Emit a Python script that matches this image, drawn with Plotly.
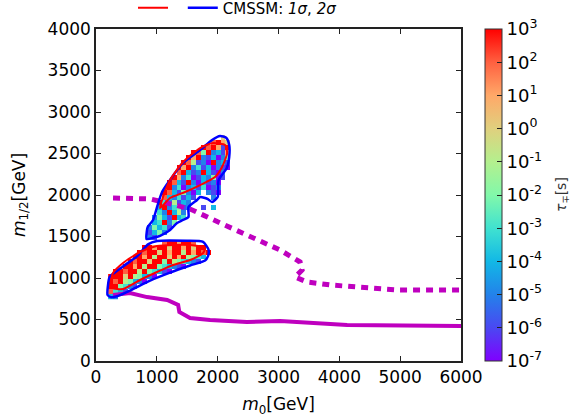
import plotly.graph_objects as go

# ---------------- data ----------------
# heat-map cells: log10(tau/s) codes, '0'..'9' -> -7..2, 'A' -> 3, '.' empty
CELL_X0 = 240          # centre of first column [GeV]
CELL_DX = 80           # column width [GeV]
CELL_DY = 60           # row height [GeV]
N_COLS = 26
ROW_Y = [2690, 2630, 2570, 2510, 2450, 2390, 2330, 2270, 2210, 2150, 2090,
         2030, 1970, 1910, 1850, 1790, 1730, 1670, 1610, 1550, 1490,
         1430, 1370, 1310, 1250, 1190, 1130, 1070, 1010, 950, 890, 830, 770]
ROW_START = [23, 21, 19, 17, 16, 15, 14, 14, 13, 12, 12,
             11, 11, 10, 10, 10, 9, 9, 8, 8, 8,
             11, 7, 6, 5, 4, 3, 1, 0, 0, 0, 0, 0]
ROW_CODES = ["7", "9A87", "A9A81A", "A95A2318", "A8A213025", "A96120A231",
             "A8A24130210", "9A312A3102", "A8240132501", "A931A203120",
             "A2402314012", "A9315203.210", "9324131...2", "A426132",
             "3A24512..1.3", "42A362", "2531A34", "34A25", "25341", "1352", "21",
             "9AA8AA9", "AA8AA7AA8A7AA", "A9AA7A8AA6A8A9A", "AA8A6AA7A8A6543",
             "A9AA7AA5A654321", "AA8A6AA543210", "AA9AA6A54310", "AAA7A65320",
             "A9A65320", "AA5421", "9431", "32"]
CODE_VALUE = {c: i - 7 for i, c in enumerate("0123456789A")}

# likelihood contours [GeV]
BLUE_UP_X = [830, 835, 850, 938, 1003, 1086, 1217, 1431, 1711, 1908, 2039, 2140, 2190,
             2190, 2150, 2016, 2000, 1908, 1840, 1793, 1711, 1661, 1520, 1520, 1431,
             1332, 1217, 1053, 938, 830]
BLUE_UP_Y = [1470, 1560, 1614, 1699, 1855, 2036, 2181, 2386, 2542, 2663, 2710, 2690, 2602,
             2458, 2325, 2181, 1976, 1916, 1950, 1964, 1976, 1940, 1855, 1735, 1699,
             1663, 1578, 1508, 1484, 1470]
BLUE_LO_X = [190, 195, 225, 444, 674, 855, 1003, 1497, 1760, 1850, 1840, 1793, 1546,
             1217, 888, 559, 345, 250, 190]
BLUE_LO_Y = [795, 900, 1012, 1140, 1260, 1405, 1445, 1448, 1435, 1340, 1260, 1210, 1150,
             1065, 968, 848, 780, 768, 795]
RED_UP_X = [1053, 1102, 1217, 1431, 1711, 1924, 2122, 2155, 2072, 1957, 1711, 1464,
            1217, 1053]
RED_UP_Y = [1843, 1976, 2181, 2398, 2566, 2627, 2602, 2506, 2337, 2217, 2120, 2036,
            1964, 1843]
RED_LO_X = [247, 270, 444, 724, 1003, 1266, 1546, 1760, 1793, 1546, 1003, 724, 444,
            280, 247]
RED_LO_Y = [952, 880, 867, 976, 1072, 1157, 1217, 1301, 1361, 1398, 1386, 1313, 1181,
            1060, 952]

# exclusion limits [GeV]
DASH_X = [280, 890, 1300, 1546, 2040, 2650, 3026, 3355, 3388, 3273, 3470, 3849, 4391,
          4950, 6000]
DASH_Y = [1964, 1952, 1880, 1831, 1663, 1458, 1337, 1193, 1096, 1012, 952, 916, 880,
          855, 855]
SOLID_X = [280, 560, 840, 1170, 1350, 1370, 1546, 1875, 2480, 3026, 4128, 6000]
SOLID_Y = [795, 820, 770, 735, 675, 590, 518, 494, 470, 482, 434, 422]

X_TICKS = [0, 1000, 2000, 3000, 4000, 5000, 6000]
Y_TICKS = [0, 500, 1000, 1500, 2000, 2500, 3000, 3500, 4000]
CB_EXPONENTS = [-7, -6, -5, -4, -3, -2, -1, 0, 1, 2, 3]

# ---------------- build grid ----------------
xs = [CELL_X0 + CELL_DX * c for c in range(N_COLS)]
ys = sorted(ROW_Y)
z = [[None] * N_COLS for _ in ys]
for y, start, codes in zip(ROW_Y, ROW_START, ROW_CODES):
    r = ys.index(y)
    for k, ch in enumerate(codes):
        if ch in CODE_VALUE:
            z[r][start + k] = CODE_VALUE[ch]

colorscale = [[0.0, '#8000ff'], [0.1, '#4a48f2'], [0.2, '#2382ea'], [0.3, '#12b8e6'],
              [0.4, '#40e2d0'], [0.5, '#82f8aa'], [0.6, '#b4f08e'], [0.7, '#e0d07e'],
              [0.8, '#ffa868'], [0.9, '#ff6040'], [1.0, '#ff0000']]

FONT = "DejaVu Sans"
PLOT_L, PLOT_R, PLOT_T, PLOT_B = 96, 461, 29, 361
PW, PH = PLOT_R - PLOT_L, PLOT_B - PLOT_T
fig = go.Figure()
fig.add_trace(go.Heatmap(
    x=xs, y=ys, z=z, zmin=-7, zmax=3, colorscale=colorscale, hoverongaps=False,
    showscale=True,
    colorbar=dict(
        x=(485 - PLOT_L) / PW, xanchor='left', xpad=0, y=0.5,
        yanchor='middle', len=1, lenmode='fraction', thickness=17, ypad=0,
        outlinewidth=1, outlinecolor='#333333',
        tickvals=CB_EXPONENTS,
        ticktext=['10<sup>%d</sup>' % e for e in CB_EXPONENTS],
        ticks='inside', ticklen=5, tickcolor='#222222',
        tickfont=dict(family=FONT, size=18, color='black'),
    ),
    showlegend=False,
))

mag = '#bf00bf'
fig.add_trace(go.Scatter(x=DASH_X, y=DASH_Y, mode='lines', showlegend=False,
                         line=dict(color=mag, width=5, dash='7px,6px')))
fig.add_trace(go.Scatter(x=SOLID_X, y=SOLID_Y, mode='lines', showlegend=False,
                         line=dict(color=mag, width=4)))

fig.add_trace(go.Scatter(x=BLUE_UP_X, y=BLUE_UP_Y, mode='lines', showlegend=False,
                         line=dict(color='#0000ff', width=2.5, shape='spline', smoothing=0.6)))
fig.add_trace(go.Scatter(x=BLUE_LO_X, y=BLUE_LO_Y, mode='lines', showlegend=False,
                         line=dict(color='#0000ff', width=2.5, shape='spline', smoothing=0.6)))
fig.add_trace(go.Scatter(x=RED_UP_X, y=RED_UP_Y, mode='lines', name=' ',
                         line=dict(color='#ff0000', width=2, shape='spline', smoothing=0.6)))
fig.add_trace(go.Scatter(x=RED_LO_X, y=RED_LO_Y, mode='lines', showlegend=False,
                         line=dict(color='#ff0000', width=2, shape='spline', smoothing=0.6)))
# legend entry for 2 sigma
fig.add_trace(go.Scatter(x=[None], y=[None], mode='lines',
                         name='CMSSM: <i>1σ</i>, <i>2σ</i>',
                         line=dict(color='#0000ff', width=2.5)))

axis_common = dict(showgrid=False, zeroline=False, showline=True, linecolor='#222222',
                   linewidth=1.5, mirror='ticks', ticks='inside', ticklen=5,
                   tickcolor='#222222', tickfont=dict(family=FONT, size=17, color='black'))
fig.update_layout(
    width=575, height=420,
    margin=dict(l=PLOT_L, r=575 - PLOT_R, t=PLOT_T, b=420 - PLOT_B, autoexpand=False),
    paper_bgcolor='white', plot_bgcolor='white',
    font=dict(family=FONT, color='black'),
    xaxis=dict(range=[0, 6000], tickvals=X_TICKS,
               title=dict(text='<i>m</i><sub>0</sub>[GeV]', standoff=12,
                          font=dict(family=FONT, size=17)), **axis_common),
    yaxis=dict(range=[0, 4000], tickvals=Y_TICKS,
               title=dict(text='<i>m</i><sub>1/2</sub>[GeV]', standoff=18,
                          font=dict(family=FONT, size=17)), **axis_common),
    legend=dict(orientation='h', x=(133 - PLOT_L) / PW, xanchor='left',
                y=1 + (PLOT_T - 8) / PH, yanchor='middle',
                font=dict(family=FONT, size=15), bgcolor='rgba(0,0,0,0)',
                itemwidth=30, tracegroupgap=0),
    annotations=[dict(text='<i>τ</i><sub>∓</sub>[s]', xref='paper', yref='paper',
                      x=(562 - PLOT_L) / PW, y=0.5, xanchor='center', yanchor='middle',
                      textangle=-90, showarrow=False,
                      font=dict(family=FONT, size=14, color='#333333'))],
)
fig.write_html("out.html", config={'displayModeBar': False},
               post_script="document.body.style.margin='0px';"
                           "document.body.style.overflow='hidden';")
